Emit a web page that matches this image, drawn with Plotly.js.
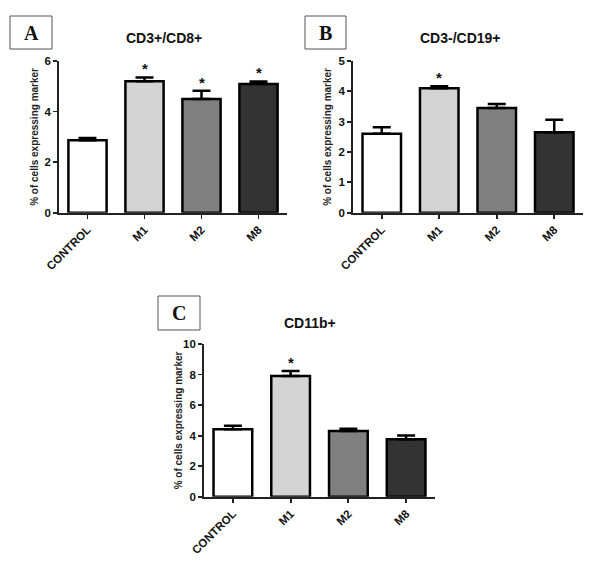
<!DOCTYPE html>
<html>
<head>
<meta charset="utf-8">
<script src="https://cdn.plot.ly/plotly-3.0.1.min.js"></script>
<style>html,body{margin:0;padding:0;background:#fff}#chart{width:600px;height:564px}</style>
</head>
<body>
<div id="chart"></div>
<script>
const categories = ["CONTROL", "M1", "M2", "M8"];
const barColors = ["#ffffff", "#d4d4d4", "#808080", "#333333"];

const cd8Title = "CD3+/CD8+";
const cd8Means = [2.87, 5.2, 4.5, 5.09];
const cd8Errors = [0.08, 0.15, 0.32, 0.1];
const cd8Sig = [false, true, true, true];

const cd19Title = "CD3-/CD19+";
const cd19Means = [2.6, 4.1, 3.45, 2.65];
const cd19Errors = [0.22, 0.07, 0.13, 0.41];
const cd19Sig = [false, true, false, false];

const cd11Title = "CD11b+";
const cd11Means = [4.41, 7.9, 4.3, 3.76];
const cd11Errors = [0.24, 0.34, 0.15, 0.24];
const cd11Sig = [false, true, false, false];

const yTitle = "% of cells expressing marker";
const panelLetters = ["A", "B", "C"];

const W = 600, H = 564;
const px = x => x / W;
const py = y => 1 - y / H;

// panel geometry (pixels)
const panels = [
  {title: cd8Title, means: cd8Means, errs: cd8Errors, sig: cd8Sig, ymax: 6, dtick: 2,
   x0: 59, x1: 287, y0: 212.7, y1: 61, titleX: 164, titleY: 38, box: [10, 16, 52, 49], ytx: 35},
  {title: cd19Title, means: cd19Means, errs: cd19Errors, sig: cd19Sig, ymax: 5, dtick: 1,
   x0: 353, x1: 583, y0: 212.7, y1: 61, titleX: 460, titleY: 38, box: [305, 16, 346, 49], ytx: 328},
  {title: cd11Title, means: cd11Means, errs: cd11Errors, sig: cd11Sig, ymax: 10, dtick: 2,
   x0: 204, x1: 435, y0: 496.7, y1: 344, titleX: 310, titleY: 323, box: [158, 296, 200, 330], ytx: 178}
];

const data = [];
const annotations = [];
const shapes = [];
const layout = {
  width: W, height: H,
  margin: {l: 0, r: 0, t: 0, b: 0},
  paper_bgcolor: "#fff", plot_bgcolor: "rgba(0,0,0,0)",
  showlegend: false,
  font: {family: "Liberation Sans, Arial, sans-serif", color: "#111"}
};

panels.forEach((p, i) => {
  const n = i === 0 ? "" : String(i + 1);
  data.push({
    type: "bar",
    x: categories,
    y: p.means,
    xaxis: "x" + n, yaxis: "y" + n,
    width: 0.67,
    marker: {color: barColors, line: {color: "#000", width: 2.5}},
    error_y: {type: "data", symmetric: false, array: p.errs,
              arrayminus: p.means.map(() => 0), color: "#000", thickness: 2.5, width: 9},
    hoverinfo: "none"
  });
  layout["xaxis" + n] = {
    domain: [px(p.x0), px(p.x1)],
    anchor: "y" + n,
    type: "category",
    range: [-0.5, 3.5],
    showline: true, linecolor: "#222", linewidth: 1.8,
    ticks: "outside", ticklen: 4, tickwidth: 1.8, tickcolor: "#222",
    tickangle: -45,
    tickfont: {family: "Liberation Sans, Arial, sans-serif", size: 11.5, color: "#111", weight: "bold"},
    showgrid: false, zeroline: false, automargin: false, fixedrange: true
  };
  layout["yaxis" + n] = {
    domain: [py(p.y0), py(p.y1)],
    anchor: "x" + n,
    range: [0, p.ymax], dtick: p.dtick,
    showline: true, linecolor: "#222", linewidth: 1.8,
    ticks: "outside", ticklen: 4, tickwidth: 1.8, tickcolor: "#222",
    tickfont: {family: "Liberation Sans, Arial, sans-serif", size: 11.5, color: "#111", weight: "bold"},
    showgrid: false, zeroline: false, automargin: false, fixedrange: true
  };
  // panel title
  annotations.push({
    xref: "paper", yref: "paper",
    x: px(p.titleX), y: py(p.titleY),
    text: "<b>" + p.title + "</b>", showarrow: false,
    xanchor: "center", yanchor: "middle",
    font: {family: "Liberation Sans, Arial, sans-serif", size: 14, color: "#111"}
  });
  // y-axis title
  annotations.push({
    xref: "paper", yref: "paper",
    x: px(p.ytx), y: (py(p.y0) + py(p.y1)) / 2,
    text: "<b>" + yTitle + "</b>", showarrow: false, textangle: -90,
    xanchor: "center", yanchor: "middle",
    font: {family: "Liberation Sans, Arial, sans-serif", size: 10, color: "#222"}
  });
  // letter box
  shapes.push({
    type: "rect", xref: "paper", yref: "paper",
    x0: px(p.box[0]), x1: px(p.box[2]), y0: py(p.box[3]), y1: py(p.box[1]),
    line: {color: "#555", width: 1}, fillcolor: "#fff"
  });
  annotations.push({
    xref: "paper", yref: "paper",
    x: (px(p.box[0]) + px(p.box[2])) / 2, y: (py(p.box[1]) + py(p.box[3])) / 2,
    text: "<b>" + panelLetters[i] + "</b>", showarrow: false,
    xanchor: "center", yanchor: "middle",
    font: {family: "Liberation Serif, Times New Roman, serif", size: 20, color: "#111"}
  });
  // significance asterisks
  categories.forEach((c, j) => {
    if (p.sig[j]) {
      annotations.push({
        xref: "x" + n, yref: "y" + n,
        x: c, y: p.means[j] + p.errs[j],
        text: "<b>*</b>", showarrow: false,
        xanchor: "center", yanchor: "bottom", yshift: -2,
        font: {family: "Liberation Sans, Arial, sans-serif", size: 15, color: "#111"}
      });
    }
  });
});

layout.annotations = annotations;
layout.shapes = shapes;

Plotly.newPlot("chart", data, layout, {staticPlot: true, displayModeBar: false});
</script>
</body>
</html>
